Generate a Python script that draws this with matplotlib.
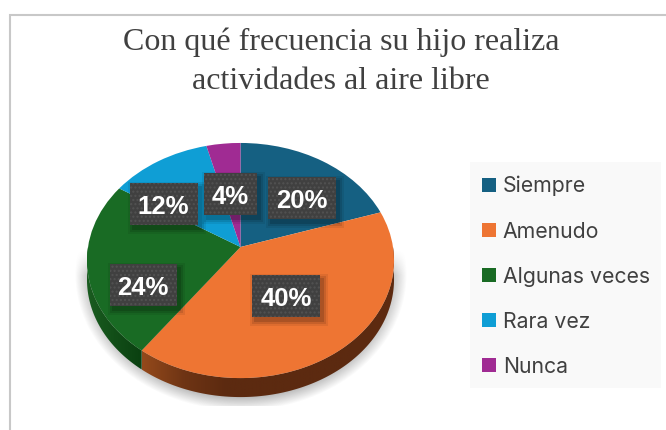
import numpy as np
import matplotlib
matplotlib.use("Agg")
import matplotlib.pyplot as plt
from matplotlib.patches import Rectangle, Polygon
from matplotlib.transforms import Transform

title = "Con qué frecuencia su hijo realiza\nactividades al aire libre"
categories = ["Siempre", "Amenudo", "Algunas veces", "Rara vez", "Nunca"]
values = [20, 40, 24, 12, 4]
colors = ["#156082", "#EE7533", "#196B24", "#0F9ED5", "#A02B93"]
label_boxes = [(267.5, 177, 68, 42), (252, 275, 68, 42), (109.5, 264, 67, 42),
               (129.5, 183, 68, 42), (204, 173, 53, 42)]

CX, CY, A, B, K, DEPTH = 240.5, 247.0, 152.5, 116.0, 0.115, 19.0


class Tilt(Transform):
    """Projects the unit pie circle onto the tilted disc, in pixel coordinates."""
    input_dims = output_dims = 2
    is_separable = False

    def transform_non_affine(self, pts):
        pts = np.asarray(pts, float)
        w = 1.0 / (1.0 + K * pts[:, 1])
        return np.column_stack([CX + A * pts[:, 0] * w, CY - B * pts[:, 1] * w])


tilt = Tilt()

fig = plt.figure(figsize=(6.66, 4.30), dpi=100, facecolor="white")
ax = fig.add_axes([0, 0, 1, 1])


def rim(t0, t1, n=120):
    th = np.radians(np.linspace(t0, t1, n))
    return tilt.transform_non_affine(np.column_stack([np.sin(th), np.cos(th)]))


def wall(t0, t1, stops):
    top = rim(t0, t1)
    low = top[::-1] + [0, DEPTH]
    poly = Polygon(np.vstack([top, low]), closed=True, fc="none", ec="none")
    ax.add_patch(poly)
    x0, x1 = min(top[:, 0].min(), low[:, 0].min()), max(top[:, 0].max(), low[:, 0].max())
    rgb = np.array([matplotlib.colors.to_rgb(c) for c in stops])
    xs = np.linspace(0, 1, 256)
    grad = np.column_stack([np.interp(xs, np.linspace(0, 1, len(stops)), rgb[:, i]) for i in range(3)])
    im = ax.imshow(grad[None, :, :], extent=(x0, x1, 420, 200), aspect="auto", zorder=2)
    im.set_clip_path(poly)


# soft ground shadow
yy, xx = np.mgrid[0:430, 0:666]
d = np.hypot((xx - 240.5) / 166.0, (yy - 274.0) / 136.0)
alpha = np.clip((1.0 - d) / 0.10, 0, 1) * 0.42
alpha[(yy > 405) | (yy < 250)] = 0
alpha *= np.clip((yy - 250) / 25.0, 0, 1)
shadow = np.zeros((430, 666, 4))
shadow[..., :3] = 0.35
shadow[..., 3] = alpha
ax.imshow(shadow, extent=(0, 666, 430, 0), aspect="auto", zorder=1, interpolation="bilinear")

# side walls, from the slice boundaries
edges = np.cumsum(values) / np.sum(values) * 360.0
wall(90, edges[1], ["#94491B", "#6E3414", "#5C2A10", "#5C2A10", "#5C2A10", "#5C2A10", "#5E2B11"])
wall(edges[1], 270, ["#1A5C20", "#0A4010"])

# top face
wedges, _ = ax.pie(values, colors=colors, startangle=90, counterclock=False, frame=True,
                   wedgeprops=dict(linewidth=0, zorder=3))
for w in wedges:
    w.set_transform(tilt + ax.transData)

# percentage labels
for v, (x, y, bw, bh) in zip(values, label_boxes):
    for grow, a in [(5, 0.07), (3, 0.10), (1, 0.14)]:
        ax.add_patch(Rectangle((x + 3 - grow, y + 4 - grow), bw + 2 * grow, bh + 2 * grow,
                               fc="black", ec="none", alpha=a, zorder=4))
    ax.add_patch(Rectangle((x, y), bw, bh, fc="#404040", ec="#525252", lw=0, hatch="....", zorder=5))
    ax.text(x + bw / 2, y + bh / 2 + 3, f"{v}%", color="white", fontsize=18.5, fontweight="bold",
            family="Liberation Sans", ha="center", va="center", zorder=6)

# chart frame
ax.plot([9.5, 9.5, 666], [430, 14.5, 14.5], color="#C8C8C8", lw=1.5, solid_joinstyle="miter", zorder=1)

# title
ax.text(341, 61.5, title, ha="center", va="center", fontsize=23, family="Liberation Serif",
        color="#404040", linespacing=1.47, zorder=6)

# legend
ax.add_patch(Rectangle((470, 162), 191, 226, fc="#F9F9F9", ec="none", zorder=1))
leg = ax.legend(wedges, categories, loc="upper left", bbox_to_anchor=(482 / 666, 1 - 176 / 430),
                frameon=False, handlelength=0.65, handleheight=0.65, handletextpad=0.33,
                labelspacing=1.18, borderpad=0, borderaxespad=0,
                prop=dict(family="Inter", size=15.3), labelcolor="#404040")

ax.set_xlim(0, 666)
ax.set_ylim(430, 0)
ax.set_aspect("auto")
ax.axis("off")
fig.savefig("out.png", dpi=100)
